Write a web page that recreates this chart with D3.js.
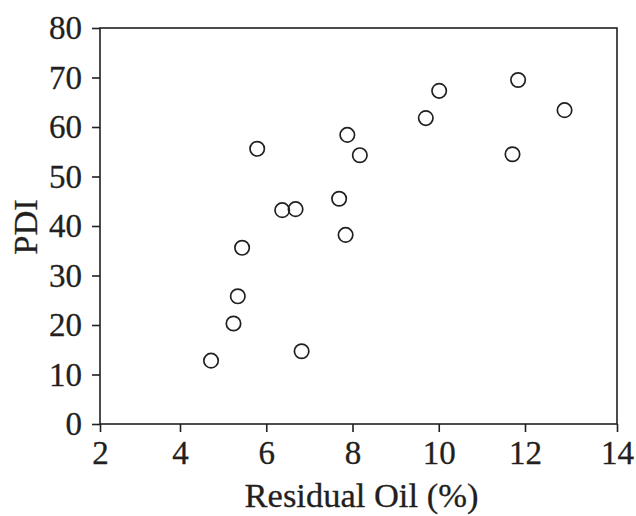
<!DOCTYPE html>
<html>
<head>
<meta charset="utf-8">
<script src="https://cdn.jsdelivr.net/npm/d3@7"></script>
<style>
  body { margin: 0; background: #fff; }
  svg text { font-family: "Liberation Serif", "DejaVu Serif", serif; fill: #231f20; stroke: #231f20; stroke-width: 0.3; }
</style>
</head>
<body>
<svg id="chart" width="636" height="516"></svg>
<script>
// residual oil (%) and PDI
var residualOil = [4.72, 5.24, 5.34, 5.44, 5.79, 6.37, 6.68, 6.82, 7.69, 7.84, 7.88, 8.17, 9.70, 10.01, 11.71, 11.84, 12.86];
var pdi = [12.8, 20.3, 25.8, 35.6, 55.6, 43.2, 43.4, 14.7, 45.5, 38.2, 58.4, 54.3, 61.8, 67.3, 54.5, 69.5, 63.4];
var xTicks = [2, 4, 6, 8, 10, 12, 14];
var yTicks = [0, 10, 20, 30, 40, 50, 60, 70, 80];

var ink = "#231f20";
var plot = { left: 100, right: 617, top: 28, bottom: 424 };

var svg = d3.select("#chart");

// the printed axis squeezes the end ticks onto the frame, so the scale is piecewise
var x = d3.scaleLinear()
  .domain([2, 4, 12, 14])
  .range([plot.left, 180, 525, plot.right]);
var y = d3.scaleLinear()
  .domain([0, 80])
  .range([plot.bottom, plot.top]);

// frame
svg.append("rect")
  .attr("x", plot.left)
  .attr("y", plot.top)
  .attr("width", plot.right - plot.left)
  .attr("height", plot.bottom - plot.top)
  .attr("fill", "none")
  .attr("stroke", ink)
  .attr("stroke-width", 1.6);

var xAxis = svg.append("g")
  .attr("transform", "translate(0," + plot.bottom + ")")
  .call(d3.axisBottom(x).tickValues(xTicks).tickSize(8).tickPadding(9).tickFormat(d3.format("d")));

var yAxis = svg.append("g")
  .attr("transform", "translate(" + plot.left + ",0)")
  .call(d3.axisLeft(y).tickValues(yTicks).tickSize(8).tickPadding(10).tickFormat(d3.format("d")));

[xAxis, yAxis].forEach(function(a) {
  a.select(".domain").remove();
  a.selectAll(".tick line").attr("stroke", ink).attr("stroke-width", 1.6);
  a.selectAll(".tick text")
    .attr("fill", ink)
    .style("font-family", '"Liberation Serif", serif')
    .style("font-size", "33px");
});

// points
svg.append("g")
  .selectAll("circle")
  .data(residualOil.map(function(d, i) { return { x: d, y: pdi[i] }; }))
  .enter().append("circle")
  .attr("cx", function(d) { return x(d.x); })
  .attr("cy", function(d) { return y(d.y); })
  .attr("r", 7.2)
  .attr("fill", "none")
  .attr("stroke", ink)
  .attr("stroke-width", 1.7);

// axis titles
svg.append("text")
  .attr("x", (plot.left + plot.right) / 2 + 3)
  .attr("y", 507)
  .attr("text-anchor", "middle")
  .style("font-size", "34.5px")
  .text("Residual Oil (%)");

svg.append("text")
  .attr("transform", "translate(37," + 227 + ") rotate(-90)")
  .attr("text-anchor", "middle")
  .style("font-size", "34.5px")
  .text("PDI");
</script>
</body>
</html>
